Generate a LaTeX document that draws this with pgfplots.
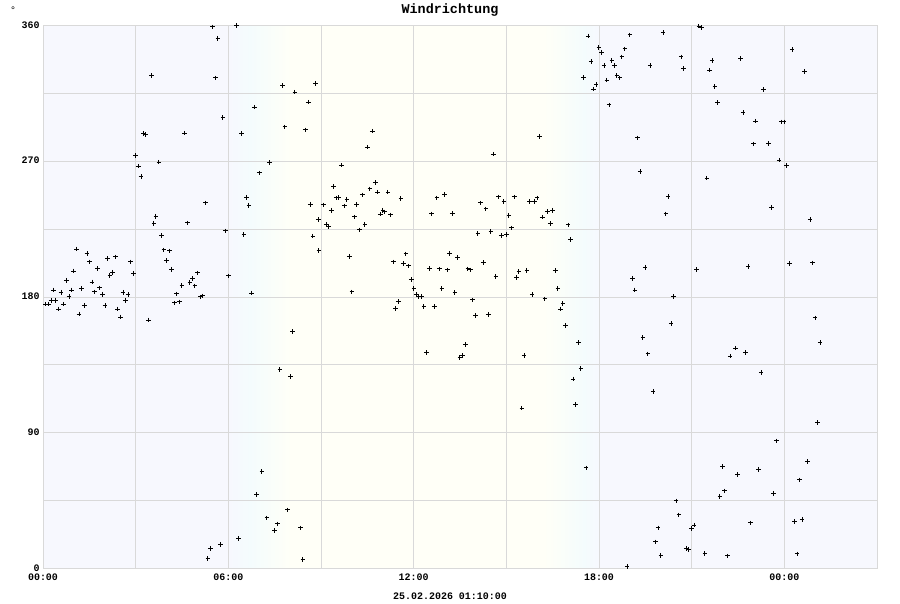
\documentclass[border=0pt]{standalone}
\usepackage{fontspec}
\setmainfont{Liberation Mono}
\usepackage{pgfplots}
\pgfplotsset{compat=1.18}
\definecolor{night}{RGB}{247,248,254}
\definecolor{day}{RGB}{255,255,247}
\definecolor{dawn}{RGB}{244,252,253}
\definecolor{gridc}{RGB}{217,217,217}
\pgfplotstableread{
x y
0.087 175.4
0.174 175.4
0.260 177.9
0.335 184.7
0.411 177.9
0.508 172.1
0.584 183.2
0.670 175.4
0.756 191.2
0.842 180.5
0.918 184.7
0.994 197.3
1.091 211.9
1.166 168.8
1.252 185.6
1.339 174.3
1.425 208.9
1.501 203.3
1.587 190.0
1.673 183.4
1.770 198.9
1.824 186.1
1.921 181.9
2.008 174.3
2.083 205.5
2.169 194.5
2.256 196.5
2.342 206.6
2.417 172.1
2.504 166.8
2.590 183.2
2.676 177.9
2.752 181.6
2.838 203.3
2.935 195.8
2.989 273.9
3.086 266.8
3.173 260.0
3.259 288.5
3.324 287.8
3.421 164.8
3.507 326.8
3.593 229.0
3.658 233.6
3.755 269.5
3.841 220.8
3.917 211.3
4.003 204.2
4.090 210.6
4.165 198.5
4.251 176.1
4.327 182.1
4.424 176.8
4.499 187.8
4.586 288.7
4.672 229.2
4.758 189.8
4.834 192.3
4.920 187.4
5.006 196.0
5.093 180.1
5.168 180.8
5.255 242.5
5.341 6.6
5.416 13.5
5.492 359.1
5.589 325.4
5.665 351.6
5.740 15.9
5.826 299.1
5.913 223.9
5.999 194.0
6.258 360.0
6.333 19.9
6.420 288.5
6.506 221.5
6.582 246.2
6.668 240.9
6.754 182.7
6.840 306.0
6.916 49.1
7.002 262.4
7.088 64.2
7.250 33.6
7.337 269.3
7.498 25.4
7.585 29.6
7.671 132.1
7.757 320.4
7.833 292.9
7.919 38.9
8.005 127.4
8.081 157.1
8.156 315.9
8.340 27.0
8.415 6.2
8.491 290.9
8.588 309.3
8.653 241.6
8.739 220.4
8.825 321.7
8.912 231.4
8.933 210.8
9.073 241.2
9.171 228.3
9.257 226.5
9.332 237.6
9.408 253.3
9.494 245.8
9.570 246.0
9.667 267.5
9.753 240.5
9.839 244.9
9.915 206.9
10.001 183.4
10.087 233.2
10.152 241.4
10.249 224.6
10.336 247.8
10.422 228.1
10.497 279.4
10.584 251.8
10.659 290.0
10.756 255.8
10.832 249.6
10.918 235.0
11.004 237.6
11.069 236.5
11.166 249.6
11.252 234.5
11.339 203.3
11.414 172.6
11.501 177.2
11.587 245.4
11.662 202.2
11.749 208.6
11.835 200.7
11.921 191.6
12.007 185.8
12.083 181.6
12.169 180.5
12.256 180.5
12.331 173.7
12.418 143.4
12.504 198.9
12.579 235.2
12.666 173.7
12.752 245.8
12.827 198.7
12.914 185.8
13.000 248.0
13.086 198.0
13.162 209.1
13.248 235.4
13.334 183.0
13.421 206.4
13.496 139.8
13.583 141.2
13.669 148.5
13.755 198.7
13.841 198.0
13.906 178.1
14.003 167.7
14.079 222.1
14.165 242.5
14.251 202.9
14.338 238.5
14.413 168.6
14.500 223.5
14.575 274.8
14.661 193.8
14.748 246.5
14.834 220.8
14.920 243.4
14.996 221.5
15.082 234.3
15.168 225.9
15.255 246.5
15.330 193.1
15.406 197.1
15.503 106.4
15.578 141.4
15.665 197.8
15.751 243.4
15.837 181.6
15.912 243.4
15.999 245.8
16.074 286.5
16.161 233.0
16.247 178.8
16.333 236.7
16.420 228.8
16.495 237.6
16.582 197.6
16.668 185.6
16.754 172.1
16.830 175.9
16.916 161.3
17.002 227.9
17.078 218.1
17.164 125.7
17.239 108.9
17.337 149.8
17.412 132.7
17.498 325.7
17.585 66.8
17.649 353.1
17.747 336.3
17.822 317.9
17.908 321.0
17.995 345.4
18.081 342.0
18.167 333.4
18.253 323.9
18.329 307.5
18.415 336.7
18.501 333.4
18.577 326.8
18.674 325.4
18.739 339.2
18.836 344.5
18.911 1.3
18.998 353.8
19.084 192.5
19.160 184.7
19.246 285.6
19.332 263.3
19.419 153.1
19.494 199.8
19.580 142.3
19.656 333.6
19.753 117.5
19.829 17.7
19.915 27.0
20.001 8.6
20.076 355.5
20.163 235.2
20.238 246.7
20.335 162.4
20.411 180.3
20.497 44.9
20.584 35.6
20.659 339.2
20.745 331.4
20.821 13.5
20.907 12.6
20.993 26.5
21.080 28.8
21.155 198.2
21.231 359.7
21.317 358.6
21.425 10.0
21.490 258.9
21.576 330.5
21.662 336.7
21.749 319.5
21.835 309.1
21.911 47.8
21.997 67.7
22.072 51.5
22.159 8.4
22.245 140.9
22.418 146.2
22.493 62.2
22.579 338.1
22.666 302.2
22.752 143.1
22.827 200.2
22.914 30.3
23.000 281.6
23.075 296.7
23.162 65.9
23.248 130.1
23.324 317.5
23.496 281.9
23.582 239.6
23.647 50.0
23.744 84.7
23.831 270.8
23.917 296.2
23.992 296.2
24.079 267.3
24.165 202.4
24.251 344.2
24.327 31.2
24.413 9.7
24.500 58.8
24.575 32.7
24.661 329.6
24.748 71.0
24.834 231.4
24.910 202.7
24.996 166.2
25.082 96.7
25.158 150.0
}\winddata
\begin{document}
\begin{tikzpicture}
\begin{axis}[
 set layers,
 at={(43bp,33bp)}, anchor=south west,
 scale only axis, width=834bp, height=543bp,
 xmin=0, xmax=27, ymin=0, ymax=360,
 xtick={0,6,12,18,24}, xticklabels={00:00,06:00,12:00,18:00,00:00},
 minor xtick={3,9,15,21},
 ytick={0,90,180,270,360}, minor ytick={45,135,225,315},
 grid=both,
 major grid style={gridc, line width=1bp},
 minor grid style={gridc, line width=1bp},
 major tick length=0pt, minor tick length=0pt,
 axis line style={gridc, line width=1bp},
 tick label style={font=\fontsize{10}{12}\selectfont\bfseries, inner ysep=0.5bp},
 xticklabel style={yshift=-4.6bp},
 yticklabel style={yshift=0.8bp},
 /pgf/number format/assume math mode=true,
 clip=false,
]
\begin{pgfonlayer}{axis background}
\fill[night] (axis cs:0,0) rectangle (axis cs:6.05,360);
\shade[left color=night, right color=dawn] (axis cs:6.0,0) rectangle (axis cs:6.75,360);
\shade[left color=dawn, right color=day] (axis cs:6.7,0) rectangle (axis cs:8.05,360);
\fill[day] (axis cs:8.0,0) rectangle (axis cs:16.25,360);
\shade[left color=day, right color=dawn] (axis cs:16.2,0) rectangle (axis cs:17.55,360);
\shade[left color=dawn, right color=night] (axis cs:17.5,0) rectangle (axis cs:18.05,360);
\fill[night] (axis cs:18,0) rectangle (axis cs:27,360);
\end{pgfonlayer}
\addplot[only marks, mark=+, mark size=2.3bp, black, line width=1bp] table[x=x,y=y] {\winddata};
\end{axis}
\node[font=\fontsize{13.5}{15}\selectfont\bfseries] at (450bp,592bp) {Windrichtung};
\node[font=\fontsize{10}{12}\selectfont\bfseries] at (450bp,5bp) {25.02.2026 01:10:00};
\node[font=\fontsize{10}{12}\selectfont, anchor=base, inner sep=0pt] at (13bp,588bp) {°};
\path (0,0) rectangle (900bp,600bp);
\end{tikzpicture}
\end{document}
